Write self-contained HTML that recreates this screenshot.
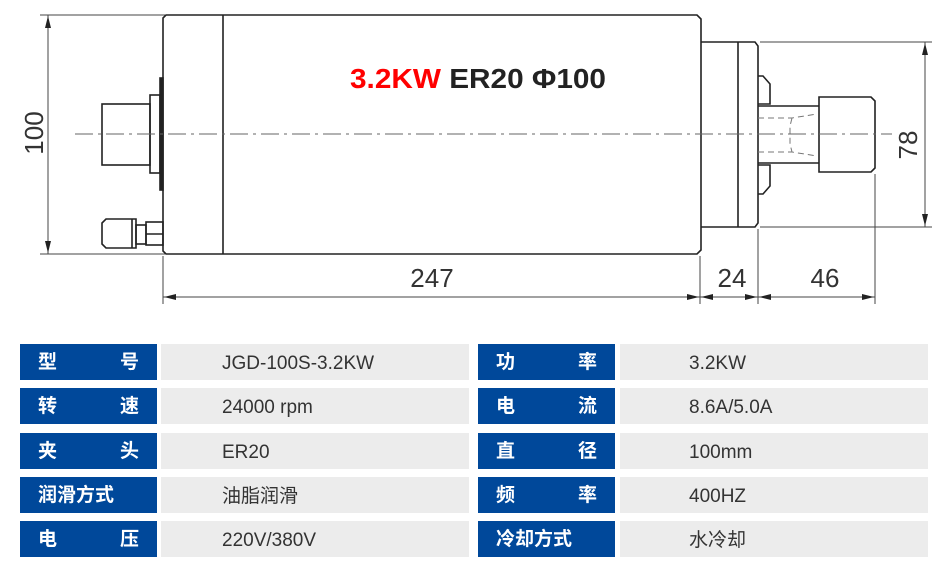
<!DOCTYPE html>
<html><head><meta charset="utf-8"><style>
body{margin:0;width:946px;height:585px;background:#fff;overflow:hidden;position:relative;font-family:"Liberation Sans","Noto Sans CJK SC",sans-serif}
.r{position:absolute;height:36px;line-height:40px;font-size:19px;overflow:hidden}
.l{background:#00489a;color:#fff;font-weight:bold;width:137px;box-sizing:border-box;padding:0 18px;display:flex;justify-content:space-between;line-height:37px}
.v{background:#ececec;color:#333;box-sizing:border-box}
</style></head><body>
<svg width="946" height="330" style="position:absolute;left:0;top:0" xmlns="http://www.w3.org/2000/svg">
<g fill="none" stroke="#222" stroke-width="1.6">
<path d="M166 15 H697 L701 19 V250 L697 254 H166 L163 251 V18 Z"/>
<line x1="223" y1="15" x2="223" y2="254"/>
<rect x="160" y="78" width="3" height="112" fill="#222"/>
<rect x="150" y="95" width="10" height="78"/>
<rect x="102" y="104" width="48" height="61"/>
<path d="M106 219 H136 V248 H106 L102 244 V223 Z"/>
<line x1="132" y1="219" x2="132" y2="248"/>
<rect x="136" y="225" width="10" height="19"/>
<rect x="146" y="222" width="17" height="23"/>
<line x1="146" y1="234" x2="163" y2="234"/>
<path d="M701 42 H755 L758 46 V223 L755 227 H701"/>
<line x1="738" y1="42" x2="738" y2="227"/>
<path d="M758 76 H763 L770 84 V104 H758"/>
<path d="M758 194 H763 L770 186 V165 H758"/>
<path d="M758 106 H819 M758 163 H819"/>
<path d="M819 97 H871 L875 101 V168 L871 172 H819 Z"/>
</g>
<g fill="none" stroke="#777" stroke-width="1" stroke-dasharray="6,4">
<path d="M758 118 H792 L817 114 M758 152 H792 L817 156 M792 118 L790 126 V144 L792 152"/>
</g>
<line x1="75" y1="134" x2="892" y2="134" stroke="#666" stroke-width="1" stroke-dasharray="18,5,3,5"/>
<g stroke="#444" stroke-width="1" fill="#222">
<line x1="40" y1="15" x2="165" y2="15"/><line x1="40" y1="254" x2="165" y2="254"/>
<line x1="48" y1="15" x2="48" y2="254"/>
<path d="M48 16 L45 28 H51 Z M48 253 L45 241 H51 Z" stroke="none"/>
<line x1="760" y1="42" x2="932" y2="42"/><line x1="760" y1="227" x2="932" y2="227"/>
<line x1="925" y1="42" x2="925" y2="227"/>
<path d="M925 43 L922 55 H928 Z M925 226 L922 214 H928 Z" stroke="none"/>
<line x1="163" y1="256" x2="163" y2="304"/><line x1="700" y1="256" x2="700" y2="304"/>
<line x1="758" y1="229" x2="758" y2="304"/><line x1="875" y1="174" x2="875" y2="304"/>
<line x1="163" y1="297" x2="875" y2="297"/>
<path d="M164 297 L176 294 V300 Z M699 297 L687 294 V300 Z M701 297 L713 294 V300 Z M757 297 L745 294 V300 Z M759 297 L771 294 V300 Z M874 297 L862 294 V300 Z" stroke="none"/>
</g>
<g font-family="Liberation Sans,sans-serif" font-size="26" fill="#333" text-anchor="middle">
<text x="432" y="287">247</text><text x="732" y="287">24</text><text x="825" y="287">46</text>
<text transform="translate(43,133) rotate(-90)">100</text>
<text transform="translate(917,145) rotate(-90)">78</text>
</g>
<text x="350" y="88" font-family="Liberation Sans,sans-serif" font-size="28" font-weight="bold" fill="#222" textLength="256" lengthAdjust="spacingAndGlyphs"><tspan fill="#f00">3.2KW</tspan> ER20 Φ100</text>
</svg>
<div class="r l" style="left:20px;top:344px"><span>型</span><span>号</span></div>
<div class="r v" style="left:161px;top:344px;width:308px;padding-left:61px">JGD-100S-3.2KW</div>
<div class="r l" style="left:20px;top:388px"><span>转</span><span>速</span></div>
<div class="r v" style="left:161px;top:388px;width:308px;padding-left:61px">24000 rpm</div>
<div class="r l" style="left:20px;top:433px"><span>夹</span><span>头</span></div>
<div class="r v" style="left:161px;top:433px;width:308px;padding-left:61px">ER20</div>
<div class="r l" style="left:20px;top:477px"><span>润滑方式</span></div>
<div class="r v" style="left:161px;top:477px;width:308px;padding-left:61px">油脂润滑</div>
<div class="r l" style="left:20px;top:521px"><span>电</span><span>压</span></div>
<div class="r v" style="left:161px;top:521px;width:308px;padding-left:61px">220V/380V</div>
<div class="r l" style="left:478px;top:344px"><span>功</span><span>率</span></div>
<div class="r v" style="left:620px;top:344px;width:308px;padding-left:69px">3.2KW</div>
<div class="r l" style="left:478px;top:388px"><span>电</span><span>流</span></div>
<div class="r v" style="left:620px;top:388px;width:308px;padding-left:69px">8.6A/5.0A</div>
<div class="r l" style="left:478px;top:433px"><span>直</span><span>径</span></div>
<div class="r v" style="left:620px;top:433px;width:308px;padding-left:69px">100mm</div>
<div class="r l" style="left:478px;top:477px"><span>频</span><span>率</span></div>
<div class="r v" style="left:620px;top:477px;width:308px;padding-left:69px">400HZ</div>
<div class="r l" style="left:478px;top:521px"><span>冷却方式</span></div>
<div class="r v" style="left:620px;top:521px;width:308px;padding-left:69px">水冷却</div>
</body></html>
